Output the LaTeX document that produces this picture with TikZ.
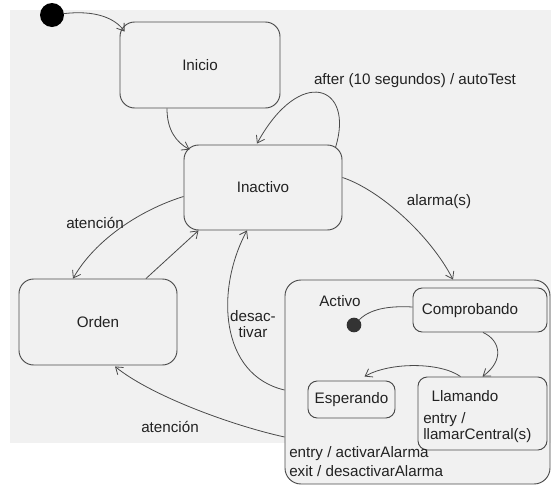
\documentclass[tikz,border=0pt]{standalone}
\usepackage{fontspec}
\setmainfont{Liberation Sans}
\usetikzlibrary{arrows.meta,calc}
\definecolor{bg}{HTML}{F1F1F1}
\definecolor{ln}{HTML}{4A4A4A}
\definecolor{tx}{HTML}{222222}
\begin{document}
\begin{tikzpicture}[x=0.75pt,y=-0.75pt,
  font=\fontsize{11.4pt}{12pt}\selectfont, text=tx,
  state/.style={draw=ln,line width=0.7pt,rounded corners=11pt,inner sep=0pt,fill=bg},
  small/.style={draw=ln,line width=0.7pt,rounded corners=7pt,inner sep=0pt,fill=bg},
  lbl/.style={inner sep=0pt},
  arr/.style={draw=ln,line width=0.6pt,-{Straight Barb[length=5pt,width=7pt]}},
  ln/.style={draw=ln,line width=0.6pt}]
\useasboundingbox (0,0) rectangle (551,486);
\fill[bg] (10,10) rectangle (551,443);

% states
\node[circle,fill=black,minimum size=18pt,inner sep=0pt] (init) at (52,15) {};
\node[state,minimum width=120pt,minimum height=64.5pt] (inicio) at (200,65) {Inicio};
\node[state,minimum width=118.5pt,minimum height=63.75pt] (inactivo) at (263,187.5) {Inactivo};
\node[state,minimum width=118.5pt,minimum height=64.5pt] (orden) at (98,322) {Orden};
\node[state,rounded corners=12pt,minimum width=198.75pt,minimum height=153pt] (activo) at (417.5,382) {};

% inside Activo
\node[lbl] (activolbl) at (340,301) {Activo};
\node[circle,fill=black!80,minimum size=11pt,inner sep=0pt] (init2) at (354,325) {};
\node[small,minimum width=100.5pt,minimum height=33pt] (compr) at (480,310) {};
\node[lbl] (comprlbl) at (470,311) {Comprobando};
\node[small,minimum width=96.75pt,minimum height=54.75pt] (llam) at (482.5,413.5) {};
\node[lbl] (llamlbl) at (465,396) {Llamando};
\node[lbl,anchor=west] (llame1) at (423,420) {entry /};
\node[lbl,anchor=west] (llame2) at (423,436) {llamarCentral(s)};
\node[small,minimum width=65.25pt,minimum height=27.75pt] (esper) at (351.5,399.5) {Esperando};
\node[lbl,anchor=west] (entryA) at (289,454) {entry / activarAlarma};
\node[lbl,anchor=west] (exitA) at (289,471) {exit / desactivarAlarma};

% transitions
\draw[arr] (init) .. controls (95,10) and (115,18) .. ($(inicio.north west)+(5,10)$);
\draw[arr] ($(inicio.south)+(-33,0)$) .. controls (167,130) and (176,142) .. ($(inactivo.north west)+(6,5)$);
\draw[arr] ($(inactivo.north east)+(-7,3)$) .. controls (355,85) and (300,65) .. ($(inactivo.north)+(-6,-1)$);
\node[lbl] (afterlbl) at (415,81) {after (10 segundos) / autoTest};
\draw[arr] ($(inactivo.east)+(0,-10)$) .. controls (380,190) and (430,235) .. ($(activo.north)+(35.5,0)$);
\node[lbl] (alarmalbl) at (439,202) {alarma(s)};
\draw[arr] ($(inactivo.west)+(0,9)$) .. controls (140,210) and (95,240) .. ($(orden.north)+(-25,0)$);
\node[lbl] (aten1) at (95,223) {atención};
\draw[arr] ($(orden.north)+(48,0)$) -- ($(inactivo.south west)+(15,0)$);
\draw[arr] ($(activo.west)+(0,8)$) .. controls (220,375) and (215,290) .. ($(inactivo.south)+(-16,0)$);
\node[lbl,align=center] (desact) at (253,324) {desac-\\tivar};
\draw[arr] ($(activo.west)+(0,55)$) .. controls (230,425) and (150,395) .. ($(orden.south)+(17,1)$);
\node[lbl] (aten2) at (170,427) {atención};

\draw[ln] (init2) .. controls (372,307) and (395,306) .. ($(compr.west)+(0,-3)$);
\draw[arr] ($(compr.south)+(3,0)$) .. controls (500,340) and (505,360) .. ($(llam.north)+(0,0)$);
\draw[arr] ($(llam.north)+(-22,0)$) .. controls (440,362) and (390,362) .. ($(esper.north)+(13,-4)$);
\end{tikzpicture}
\end{document}
